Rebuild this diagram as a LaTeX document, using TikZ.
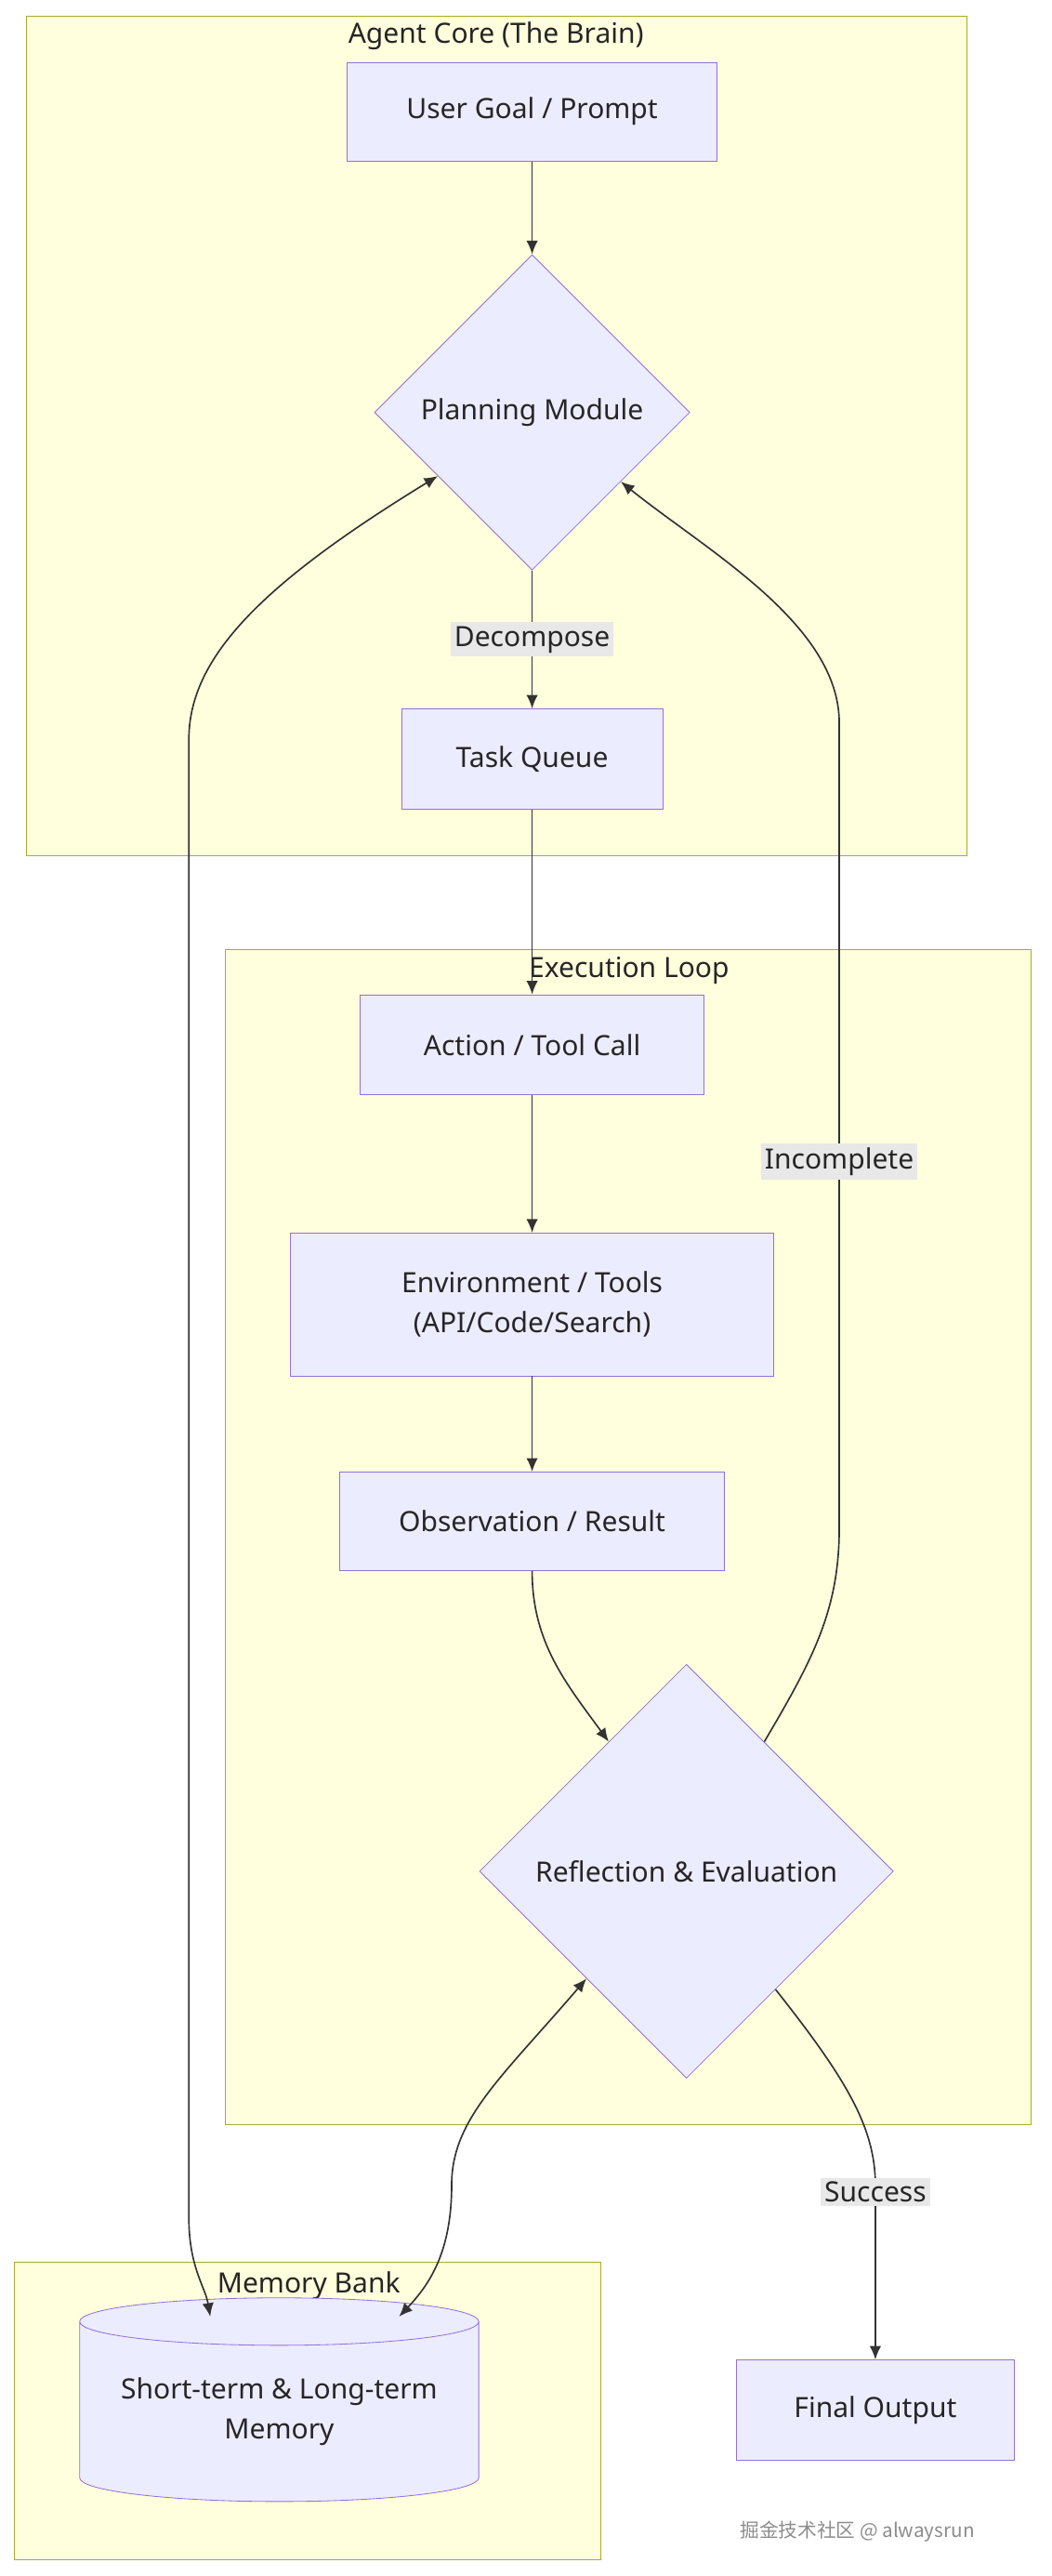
\documentclass[tikz,border=0pt]{standalone}
\usepackage{fontspec}
\setmainfont{Noto Sans}
\newfontfamily\cjk{Noto Sans CJK SC}
\usetikzlibrary{shapes.geometric,arrows.meta}
\definecolor{nodefill}{HTML}{ECECFF}
\definecolor{nodeline}{HTML}{9370DB}
\definecolor{clusterfill}{HTML}{FFFFDE}
\definecolor{clusterline}{HTML}{AAAA33}
\definecolor{labelbg}{HTML}{E8E8E8}
\begin{document}
\begin{tikzpicture}[x=0.03cm,y=-0.03cm,
    font=\fontsize{14.5}{21}\selectfont, text=black!85,
    box/.style={rectangle, draw=nodeline, fill=nodefill, align=center, inner sep=0pt},
    decision/.style={diamond, draw=nodeline, fill=nodefill, aspect=1, inner sep=0pt},
    cluster/.style={draw=clusterline, fill=clusterfill},
    title/.style={inner sep=1pt},
    edgelabel/.style={fill=labelbg, inner sep=2pt},
    arrow/.style={draw=black!80, line width=0.8pt, -{Latex[length=7pt,width=6pt]}}]

  % Frame
  \useasboundingbox (0,0) rectangle (640,1568);

  % Clusters
  \draw[cluster] (16,10) rectangle (589,521);
  \draw[cluster] (137,578) rectangle (628,1293);
  \draw[cluster] (9,1377) rectangle (366,1558);
  \node[title] (coreTitle) at (302,22) {Agent Core (The Brain)};
  \node[title] (loopTitle) at (383,591) {Execution Loop};
  \node[title] (memTitle) at (188,1391) {Memory Bank};

  % Nodes
  \node (goal) [box, minimum width=6.75cm, minimum height=1.8cm] at (324,68) {User Goal / Prompt};
  \node (plan) [decision, minimum width=5.76cm, minimum height=5.76cm] at (324,251) {Planning Module};
  \node (queue) [box, minimum width=4.77cm, minimum height=1.83cm] at (324,462) {Task Queue};
  \node (action) [box, minimum width=6.27cm, minimum height=1.83cm] at (324,636) {Action / Tool Call};
  \node (env) [box, minimum width=8.82cm, minimum height=2.61cm] at (324,794) {Environment / Tools\\(API/Code/Search)};
  \node (obs) [box, minimum width=7.02cm, minimum height=1.8cm] at (324,926) {Observation / Result};
  \node (refl) [decision, minimum width=7.56cm, minimum height=7.56cm] at (418,1139) {Reflection \& Evaluation};
  \node (final) [box, minimum width=5.07cm, minimum height=1.83cm] at (533,1467) {Final Output};
  \node (mem) [cylinder, shape border rotate=90, aspect=0.15, draw=nodeline, fill=nodefill,
               minimum width=7.29cm, minimum height=3.72cm, align=center, inner sep=0pt]
               at (170,1468) {Short-term \& Long-term\\Memory};

  % Edges
  \draw[arrow] (goal) -- (plan);
  \draw[arrow] (plan) -- node[edgelabel] {Decompose} (queue);
  \draw[arrow] (queue) -- (action);
  \draw[arrow] (action) -- (env);
  \draw[arrow] (env) -- (obs);
  \draw[arrow] (obs.south) .. controls (324,1000) and (345,1025) .. (refl.121);
  \draw[arrow] (refl.59) .. controls (495,1010) and (511,980) .. (511,930)
      -- node[edgelabel, pos=0.455] {Incomplete} (511,440) .. controls (511,380) and (430,335) .. (plan.-38);
  \draw[arrow] (refl.-53) .. controls (515,1265) and (533,1295) .. (533,1330)
      -- node[edgelabel, pos=0.04] {Success} (final.north);
  \draw[arrow, {Latex[length=7pt,width=6pt]}-{Latex[length=7pt,width=6pt]}] (plan.214)
      .. controls (160,355) and (115,400) .. (115,450) -- (115,1350)
      .. controls (115,1380) and (125,1392) .. ([xshift=-1.26cm,yshift=-0.35cm]mem.north);
  \draw[arrow, {Latex[length=7pt,width=6pt]}-{Latex[length=7pt,width=6pt]}] (refl.227)
      .. controls (305,1265) and (275,1290) .. (275,1330)
      .. controls (275,1370) and (262,1390) .. ([xshift=2.19cm,yshift=-0.35cm]mem.north);

  % Watermark
  \node (mark) [text=black!45, font=\cjk\fontsize{10}{12}\selectfont] at (522,1541) {掘金技术社区 @ alwaysrun};
\end{tikzpicture}
\end{document}
